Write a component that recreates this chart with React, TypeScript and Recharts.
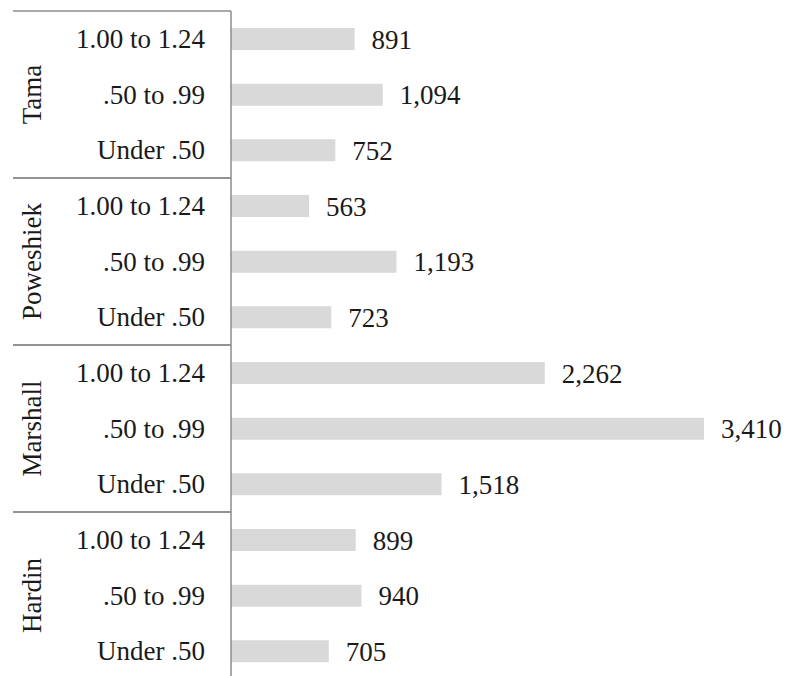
import React from 'react';
import { BarChart, Bar, XAxis, YAxis, LabelList } from 'recharts';

const counties = ['Tama', 'Poweshiek', 'Marshall', 'Hardin'];
const ranges = ['1.00 to 1.24', '.50 to .99', 'Under .50'];

// values per county, in the same order as ranges
const tama = [891, 1094, 752];
const poweshiek = [563, 1193, 723];
const marshall = [2262, 3410, 1518];
const hardin = [899, 940, 705];

const countyValues = [tama, poweshiek, marshall, hardin];

const data = counties.flatMap((county, ci) =>
  ranges.map((range, ri) => ({
    key: `${county}-${range}`,
    county,
    range,
    value: countyValues[ci][ri],
  }))
);

const FONT = '"Liberation Serif", serif';
const LINE = '#8c8c8c';
const TEXT = '#1a1a1a';

const W = 786;
const H = 690;
const M = { top: 11, right: 82, bottom: 11, left: 0 };
const AXIS_W = 231;

function GroupTick(props: any) {
  const { x, y, payload, index } = props;
  const band = payload.offset ? payload.offset * 2 : (H - M.top - M.bottom) / data.length;
  const row = data[index];
  const pos = index % ranges.length;
  return (
    <g>
      <text
        x={x - 26}
        y={y}
        textAnchor="end"
        dominantBaseline="central"
        fontFamily={FONT}
        fontSize={27}
        fill={TEXT}
      >
        {row.range}
      </text>
      {pos === 0 && (
        <line x1={13} x2={x} y1={y - band / 2} y2={y - band / 2} stroke={LINE} strokeWidth={1.5} />
      )}
      {pos === ranges.length - 1 && (
        <line x1={13} x2={x} y1={y + band / 2} y2={y + band / 2} stroke={LINE} strokeWidth={1.5} />
      )}
      {pos === 1 && (
        <text
          x={32}
          y={y}
          transform={`rotate(-90 32 ${y})`}
          textAnchor="middle"
          dominantBaseline="central"
          fontFamily={FONT}
          fontSize={27}
          fill={TEXT}
        >
          {row.county}
        </text>
      )}
    </g>
  );
}

export default function App() {
  return (
    <div
      style={{
        position: 'absolute',
        top: 0,
        left: 0,
        width: 786,
        height: 676,
        overflow: 'hidden',
        background: '#fff',
      }}
    >
      <BarChart width={W} height={H} data={data} layout="vertical" margin={M}>
        <XAxis type="number" hide domain={[0, 3410]} />
        <YAxis
          type="category"
          dataKey="key"
          width={AXIS_W}
          axisLine={{ stroke: LINE, strokeWidth: 1.5 }}
          tickLine={false}
          tickSize={0}
          tickMargin={0}
          interval={0}
          tick={<GroupTick />}
        />
        <Bar dataKey="value" fill="#d9d9d9" barSize={22} isAnimationActive={false}>
          <LabelList
            dataKey="value"
            position="right"
            offset={17}
            formatter={(v: any) => Number(v).toLocaleString('en-US')}
            style={{ fontFamily: FONT, fontSize: 27, fill: TEXT }}
          />
        </Bar>
      </BarChart>
    </div>
  );
}
